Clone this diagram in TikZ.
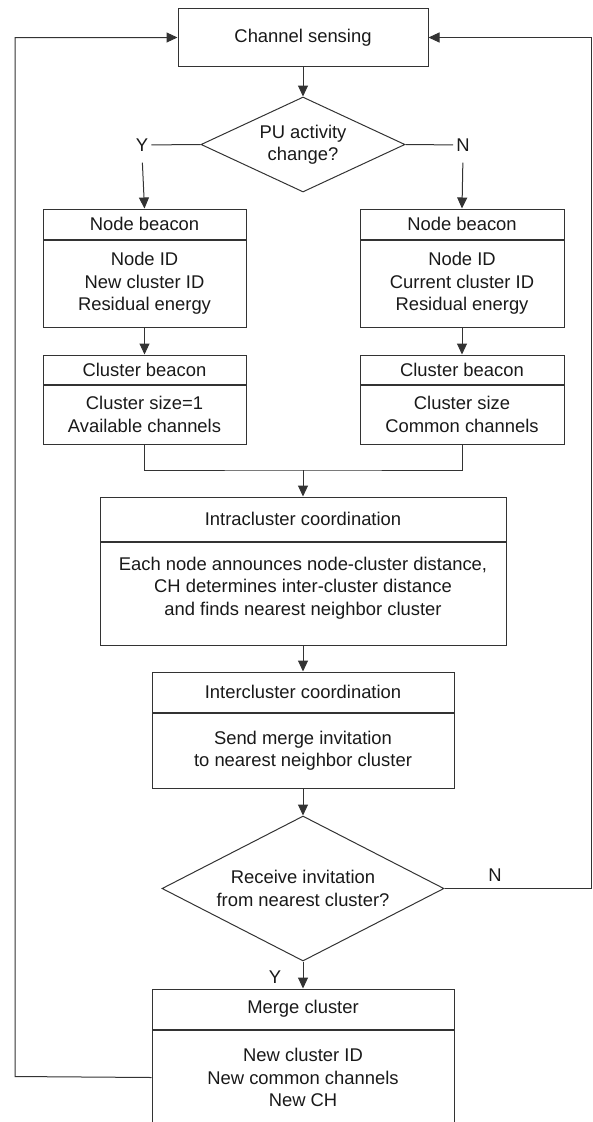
\documentclass[tikz,border=0pt]{standalone}
\usepackage{fontspec}
\setmainfont{Liberation Sans}
\usetikzlibrary{arrows.meta,positioning,shapes.geometric}

\begin{document}
\begin{tikzpicture}[x=1pt, y=-1pt, >={Triangle[length=11pt,width=10pt]},
	every node/.append style={font=\fontsize{18.4}{22.5}\selectfont, text=black!90},
	line/.style={draw=black!80, line width=1pt},
	box/.style={line, rectangle, inner sep=0pt, align=center, minimum width=#1},
	decision/.style={line, diamond, inner sep=0pt, align=center},
	lbl/.style={inner sep=3pt}]
	\useasboundingbox (0,0) rectangle (592,1122);

	% Inicio
	\node[box=250pt, minimum height=58.5pt] (sense) at (303,37.5) {Channel sensing};
	\node[decision, aspect=2.15, minimum width=204pt, minimum height=95pt] (pu) at (303,144.5) {PU activity\\change?};
	\node[lbl] (yes1) at (142,145) {Y};
	\node[lbl] (no1) at (463,145) {N};
	\draw[line] (yes1) -- (pu.west);
	\draw[line] (pu.east) -- (no1);

	% Ramo esquerdo
	\node[box=203pt, minimum height=30pt] (nbLt) at (144.5,224) {Node beacon};
	\node[box=203pt, minimum height=87pt, anchor=north] (nbLb) at (nbLt.south) {Node ID\\New cluster ID\\Residual energy};
	\node[box=203pt, minimum height=29pt] (cbLt) at (144.5,369.5) {Cluster beacon};
	\node[box=203pt, minimum height=59pt, anchor=north] (cbLb) at (cbLt.south) {Cluster size=1\\Available channels};

	% Ramo direito
	\node[box=204pt, minimum height=30pt] (nbRt) at (462,224) {Node beacon};
	\node[box=204pt, minimum height=87pt, anchor=north] (nbRb) at (nbRt.south) {Node ID\\Current cluster ID\\Residual energy};
	\node[box=204pt, minimum height=29pt] (cbRt) at (462,369.5) {Cluster beacon};
	\node[box=204pt, minimum height=59pt, anchor=north] (cbRb) at (cbRt.south) {Cluster size\\Common channels};

	% Coordenacao
	\coordinate (join) at (303,470);
	\node[box=406pt, minimum height=44pt] (intraT) at (303,519) {Intracluster coordination};
	\node[box=406pt, minimum height=103pt, anchor=north, text depth=15pt] (intraB) at (intraT.south) {Each node announces node-cluster distance,\\CH determines inter-cluster distance\\and finds nearest neighbor cluster};
	\node[box=302pt, minimum height=40pt] (interT) at (303,692) {Intercluster coordination};
	\node[box=302pt, minimum height=75pt, anchor=north] (interB) at (interT.south) {Send merge invitation\\to nearest neighbor cluster};
	\node[decision, aspect=1.94, minimum width=282pt, minimum height=145pt] (rcv) at (303,888.5) {Receive invitation\\from nearest cluster?};
	\node[lbl] (yes2) at (275,977) {Y};
	\node[lbl] (no2) at (495,875) {N};

	% Fusao
	\node[box=302pt, minimum height=40pt] (mergeT) at (303,1009) {Merge cluster};
	\node[box=302pt, minimum height=95pt, anchor=north] (mergeB) at (mergeT.south) {New cluster ID\\New common channels\\New CH};

	% Setas
	\draw[line, ->] (sense) -- (pu);
	\draw[line, ->, shorten <=8pt] (yes1.south) -- (nbLt.north);
	\draw[line, ->, shorten <=8pt] (no1.south) -- (nbRt.north);
	\draw[line, ->] (nbLb) -- (cbLt);
	\draw[line, ->] (nbRb) -- (cbRt);
	\draw[line] (cbLb.south) |- (join) -| (cbRb.south);
	\draw[line, ->] (join) -- (intraT.north);
	\draw[line, ->] (intraB) -- (interT);
	\draw[line, ->] (interB) -- (rcv);
	\draw[line, ->] (rcv) -- (mergeT);

	% Retornos
	\coordinate (loopL) at (15,1076.5);
	\coordinate (loopR) at (591,888.5);
	\draw[line, ->] (mergeB.west) -- (loopL) |- (sense.west);
	\draw[line, ->] (rcv.east) -- (loopR) |- (sense.east);
\end{tikzpicture}
\end{document}
